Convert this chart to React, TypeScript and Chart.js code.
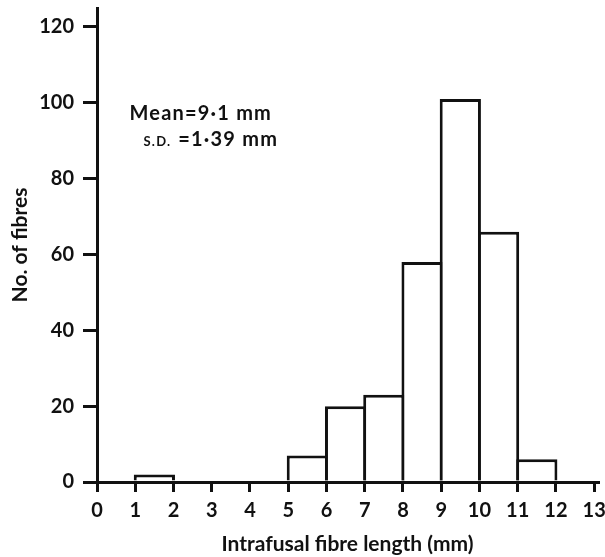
import React, { useEffect, useRef } from "react";
import { Chart, registerables } from "chart.js";

Chart.register(...registerables);

// Bin centres (mm) and counts
const binCentres = [1.5, 5.5, 6.5, 7.5, 8.5, 9.5, 10.5, 11.5];
const counts = [2, 7, 20, 23, 58, 101, 66, 6];
const xTicks = [0, 1, 2, 3, 4, 5, 6, 7, 8, 9, 10, 11, 12, 13];
const yTicks = [0, 20, 40, 60, 80, 100, 120];
const xTitle = "Intrafusal fibre length (mm)";
const yTitle = "No. of fibres";
const meanLine = "Mean=9·1 mm";
const sdLabel = "S.D.";
const sdValue = "=1·39 mm";

const FONT = "Lato, 'DejaVu Sans', sans-serif";

const annotationPlugin = {
  id: "annot",
  afterDraw(chart: any) {
    const ctx = chart.ctx;
    const xs = chart.scales.x;
    const ys = chart.scales.y;
    const x0 = xs.getPixelForValue(0.85);
    const y0 = ys.getPixelForValue(95.5);
    ctx.save();
    ctx.fillStyle = "#111";
    ctx.textBaseline = "alphabetic";
    ctx.textAlign = "left";
    (ctx as any).letterSpacing = "1.2px";
    ctx.font = `bold 20px ${FONT}`;
    ctx.fillText(meanLine, x0, y0);
    const y1 = y0 + 26;
    ctx.font = `bold 13px ${FONT}`;
    ctx.fillText(sdLabel, x0 + 14, y1);
    const w = ctx.measureText(sdLabel).width + 7;
    ctx.font = `bold 20px ${FONT}`;
    ctx.fillText(sdValue, x0 + 14 + w, y1);
    ctx.restore();
  },
};

export default function App() {
  const ref = useRef<HTMLCanvasElement>(null);
  useEffect(() => {
    document.body.style.margin = "0";
    const chart = new Chart(ref.current!, {
      type: "bar",
      data: {
        datasets: [
          {
            data: binCentres.map((x, i) => ({ x, y: counts[i] })),
            backgroundColor: "#ffffff",
            borderColor: "#111111",
            borderWidth: 3,
            barPercentage: 1.078,
            categoryPercentage: 1,
            borderSkipped: "bottom",
          } as any,
        ],
      },
      options: {
        animation: false,
        responsive: false,
        maintainAspectRatio: false,
        layout: { autoPadding: false, padding: { top: 8, right: 7, left: 0, bottom: 0 } },
        plugins: { legend: { display: false }, tooltip: { enabled: false } },
        scales: {
          x: {
            type: "linear",
            min: 0,
            max: 13.1,
            offset: false,
            afterBuildTicks: (s: any) => {
              s.ticks = xTicks.map((v) => ({ value: v }));
            },
            afterFit: (s: any) => {
              s.height = 75;
              s.paddingLeft = 0;
              s.paddingRight = 0;
            },
            grid: {
              display: true,
              offset: false,
              drawOnChartArea: false,
              drawTicks: true,
              tickLength: 10,
              lineWidth: 3,
              color: "#111",
            },
            border: { display: true, color: "#111", width: 3 },
            ticks: {
              color: "#111",
              padding: 7,
              font: { family: FONT, size: 20, weight: "bold" },
              maxRotation: 0,
              autoSkip: false,
            },
            title: {
              display: true,
              text: xTitle,
              color: "#111",
              font: { family: FONT, size: 21, weight: "bold" },
              padding: { top: 0, bottom: 0 },
            },
          },
          y: {
            min: 0,
            max: 125,
            afterBuildTicks: (s: any) => {
              s.ticks = yTicks.map((v) => ({ value: v }));
            },
            afterFit: (s: any) => {
              s.width = 97;
              s.paddingTop = 0;
              s.paddingBottom = 0;
            },
            grid: {
              display: true,
              drawOnChartArea: false,
              drawTicks: true,
              tickLength: 14,
              lineWidth: 3,
              color: "#111",
            },
            border: { display: true, color: "#111", width: 3 },
            ticks: {
              color: "#111",
              padding: 9,
              font: { family: FONT, size: 20, weight: "bold" },
            },
            title: {
              display: true,
              text: yTitle,
              color: "#111",
              font: { family: FONT, size: 21, weight: "bold" },
              padding: { top: 8, bottom: 0 },
            },
          },
        },
      },
      plugins: [annotationPlugin],
    } as any);
    return () => chart.destroy();
  }, []);
  return (
    <div style={{ width: 605, height: 557 }}>
      <canvas ref={ref} width={605} height={557} style={{ width: 605, height: 557 }} />
    </div>
  );
}
